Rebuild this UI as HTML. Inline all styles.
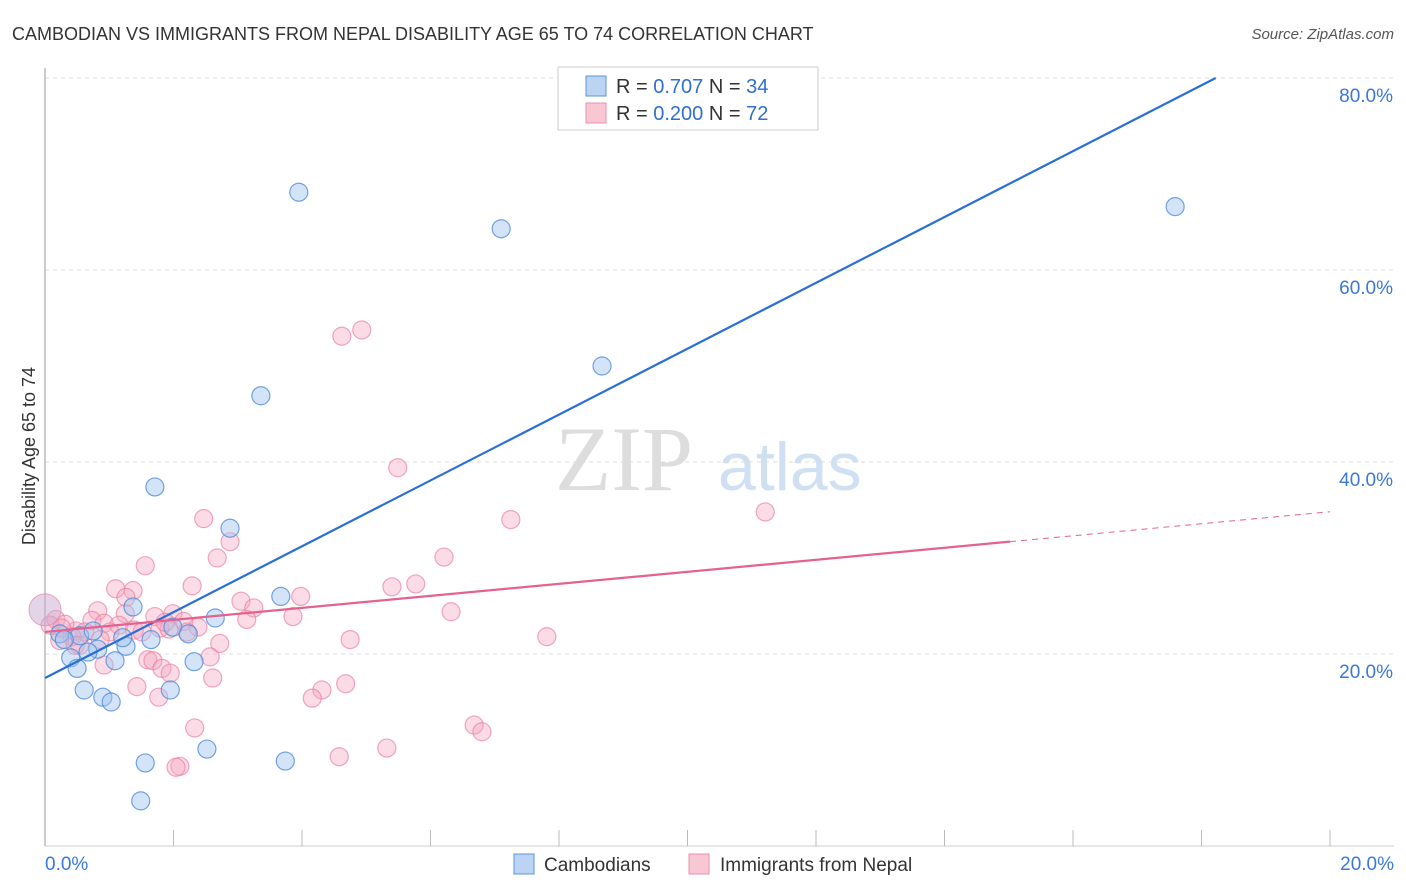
<!DOCTYPE html>
<html><head><meta charset="utf-8"><style>
body{margin:0;background:#fff;font-family:"Liberation Sans",sans-serif}
#c{position:relative;width:1406px;height:892px;overflow:hidden}
</style></head><body>
<div id="c">
<svg id="s" width="1406" height="892" xmlns="http://www.w3.org/2000/svg">
<text x="12" y="40" font-size="18" fill="#333">CAMBODIAN VS IMMIGRANTS FROM NEPAL DISABILITY AGE 65 TO 74 CORRELATION CHART</text>
<text x="1394" y="39" font-size="15" fill="#555" font-style="italic" text-anchor="end">Source: ZipAtlas.com</text>
<text x="35" y="456" font-size="18" fill="#333" text-anchor="middle" transform="rotate(-90 35 456)">Disability Age 65 to 74</text>
<text x="555" y="490" font-size="92" fill="#ddd" font-family="Liberation Serif,serif">ZIP</text>
<text x="718" y="490" font-size="68" fill="#cfe0f3">atlas</text>
<g id="grid"></g><g id="pts"></g><g id="lines"></g>
<g>
<rect x="558" y="67" width="260" height="63" fill="#fff" stroke="#ccc"/>
<rect x="586" y="76" width="20" height="20" fill="#bcd4f3" stroke="#5d93dc"/>
<rect x="586" y="103" width="20" height="20" fill="#f9c6d4" stroke="#e991ac"/>
<text x="616" y="93" font-size="20" fill="#333">R = <tspan fill="#2f6fd0">0.707</tspan>   N = <tspan fill="#2f6fd0">34</tspan></text>
<text x="616" y="120" font-size="20" fill="#333">R = <tspan fill="#2f6fd0">0.200</tspan>   N = <tspan fill="#2f6fd0">72</tspan></text>
</g>
<g>
<rect x="514" y="854" width="20" height="20" fill="#bcd4f3" stroke="#5d93dc"/>
<text x="544" y="871" font-size="19" fill="#333">Cambodians</text>
<rect x="689" y="854" width="20" height="20" fill="#f9c6d4" stroke="#e991ac"/>
<text x="720" y="871" font-size="19" fill="#333">Immigrants from Nepal</text>
</g>
</svg></div>
<script>
const yTicks=[20,40,60,80];
const xTickLabels=["0.0%","20.0%"];
const blueX=[3.95,7.10,17.59,8.67,3.36,1.71,2.88,3.67,1.37,2.65,1.99,2.23,1.65,1.26,1.21,0.82,0.67,0.40,1.09,2.32,0.50,0.61,1.95,0.90,1.03,2.52,1.56,3.74,1.49,0.23,0.54,0.30,0.75];
const blueY=[68.1,64.3,66.6,50.0,46.9,37.4,33.1,26.0,24.9,23.75,22.8,22.1,21.5,20.8,21.7,20.5,20.2,19.6,19.3,19.2,18.5,16.25,16.25,15.5,15.0,10.1,8.65,8.85,4.7,22.1,21.9,21.5,22.4];
const pinkX=[4.93,4.62,5.49,2.47,7.25,11.21,2.88,2.68,6.21,1.56,2.29,1.10,1.37,5.77,5.40,3.98,1.26,3.05,3.25,6.32,0.82,1.25,1.99,1.71,3.86,3.14,0.73,0.92,2.16,1.15,2.38,1.39,1.51,1.01,0.48,0.17,0.31,0.62,0.42,0.23,1.79,1.93,2.21,1.87,4.75,7.81,2.72,0.47,0.92,1.60,1.68,2.57,1.82,1.95,2.61,1.43,4.31,4.16,4.68,1.77,2.33,6.68,6.80,5.32,4.58,2.10,2.04,0.08,0.26,0.86,0.54];
const pinkY=[53.75,53.1,39.4,34.1,34.0,34.8,31.7,30.0,30.1,29.2,27.1,26.8,26.6,27.3,27.0,26.0,25.9,25.5,24.8,24.4,24.5,24.2,24.2,23.9,23.9,23.6,23.5,23.2,23.4,23.0,22.8,22.5,22.3,22.3,22.4,23.6,23.1,22.3,21.8,21.4,22.7,22.6,22.3,23.3,21.5,21.8,21.1,20.9,18.85,19.4,19.3,19.7,18.5,18.0,17.5,16.6,16.25,15.4,16.9,15.5,12.3,12.6,11.9,10.2,9.3,8.3,8.2,23.0,22.7,21.5,20.9];
const bigPoint=[0,24.6];
const blueFit=[17.5,3.43];
const pinkFit=[22.3,0.626];
const pinkSolidEnd=15.02;
const NS="http://www.w3.org/2000/svg";
const X=v=>45+v*1285/20, Y=v=>846-v*9.6;
function mk(t,a,p){const e=document.createElementNS(NS,t);for(const k in a)e.setAttribute(k,a[k]);p.appendChild(e);return e;}
const grid=document.getElementById('grid');
yTicks.forEach(t=>{
 const l=mk('line',{x1:45,x2:1394,y1:Y(t),y2:Y(t),stroke:'#ddd','stroke-dasharray':'4,4'},grid);
 
 
 const tx=mk('text',{x:1393,y:Y(t)+24,'font-size':19,fill:'#3b78d8','text-anchor':'end'},grid);
 tx.textContent=t.toFixed(1)+'%';
 
 
});
const ax=mk('line',{x1:45,x2:45,y1:68,y2:846,stroke:'#bbb','stroke-width':1.5},grid);


const bx=mk('line',{x1:45,x2:1394,y1:846,y2:846,stroke:'#ccc'},grid);


for(let i=0;i<=10;i++){const t=mk('line',{x1:X(i*2),x2:X(i*2),y1:830,y2:846,stroke:'#bbb'},grid);
 
 }
[[0,'start',45],[20,'end',1394]].forEach((d,i)=>{const t=mk('text',{x:d[2],y:870,'font-size':19,fill:'#3b78d8','text-anchor':d[1]},grid);t.textContent=xTickLabels[i];
 
 });
const pts=document.getElementById('pts');
pinkX.forEach((x,i)=>{const c=mk('circle',{cx:X(x),cy:Y(pinkY[i]),r:9,fill:'rgba(246,168,192,0.4)',stroke:'rgba(233,130,162,0.7)','stroke-width':1.2},pts);
 
 });
blueX.forEach((x,i)=>{const c=mk('circle',{cx:X(x),cy:Y(blueY[i]),r:9,fill:'rgba(160,196,240,0.45)',stroke:'rgba(80,140,220,0.8)','stroke-width':1.2},pts);
 
 });
const bp=mk('circle',{cx:X(bigPoint[0]),cy:Y(bigPoint[1]),r:16,fill:'rgba(200,170,210,0.5)',stroke:'rgba(233,130,162,0.7)'},pts);


const ln=document.getElementById('lines');
const bxEnd=(80-blueFit[0])/blueFit[1];
const bl=mk('line',{x1:X(0),y1:Y(blueFit[0]),x2:X(bxEnd),y2:Y(blueFit[0]+blueFit[1]*bxEnd),stroke:'#2a6fd6','stroke-width':2.2},ln);


const pl=mk('line',{x1:X(0),y1:Y(pinkFit[0]),x2:X(pinkSolidEnd),y2:Y(pinkFit[0]+pinkFit[1]*pinkSolidEnd),stroke:'#e4628e','stroke-width':2.2},ln);


const pd=mk('line',{x1:X(pinkSolidEnd),y1:Y(pinkFit[0]+pinkFit[1]*pinkSolidEnd),x2:X(20),y2:Y(pinkFit[0]+pinkFit[1]*20),stroke:'#e4628e','stroke-width':1,'stroke-dasharray':'6,5'},ln);


</script>
</body></html>
